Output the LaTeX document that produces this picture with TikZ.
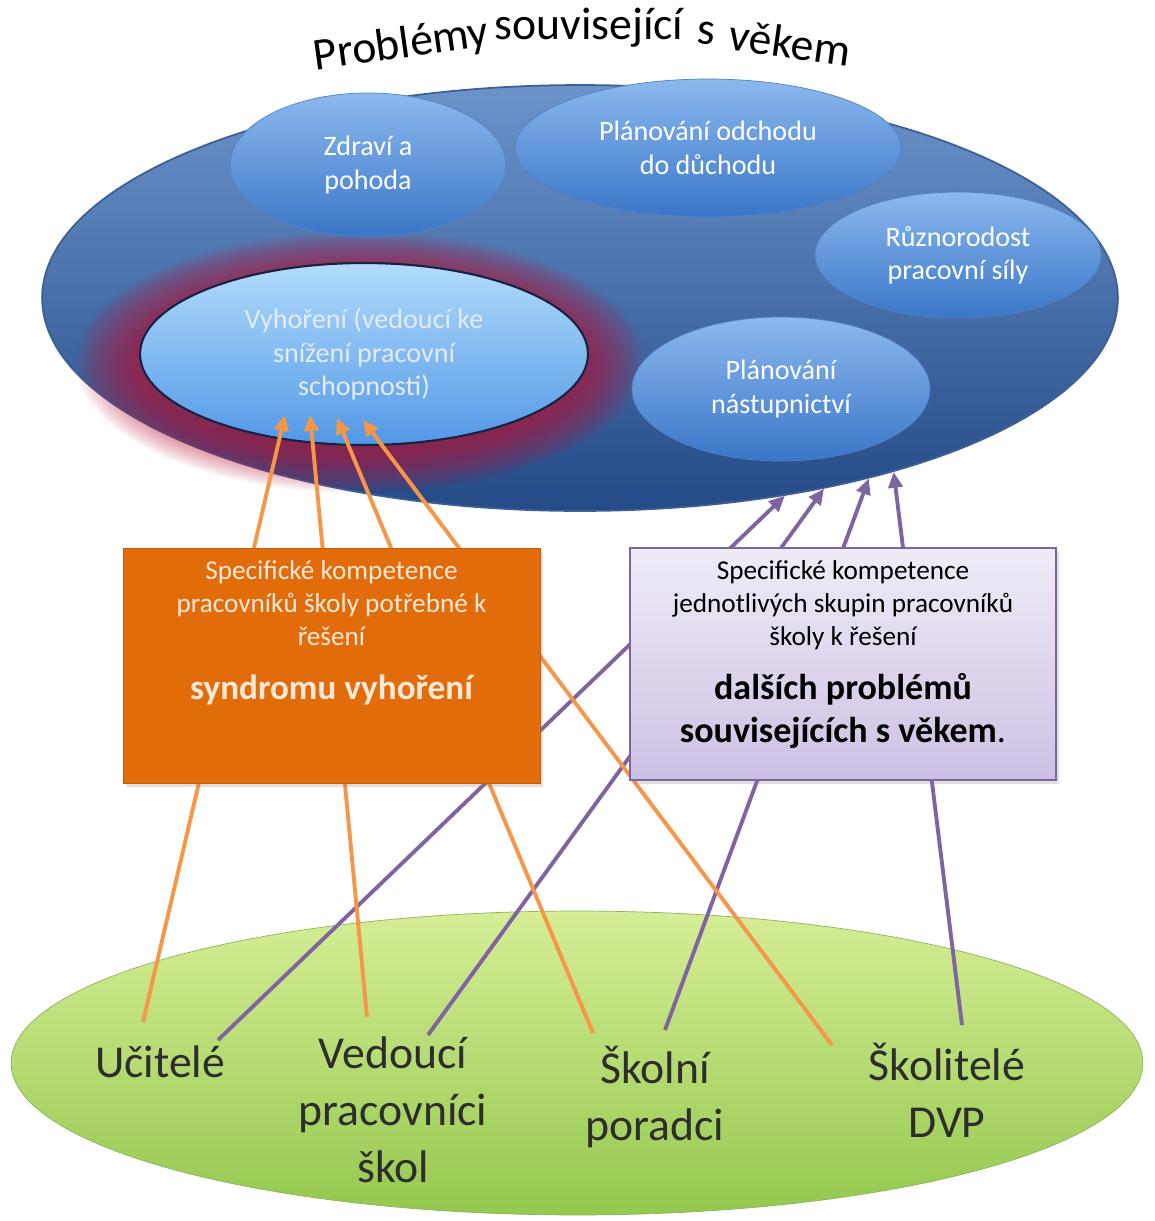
\documentclass[tikz,border=0pt]{standalone}
\usepackage{fontspec}
\setmainfont{Carlito}
\usetikzlibrary{shapes.geometric,arrows.meta,calc,shadows}

\definecolor{outertop}{RGB}{108,148,202}
\definecolor{outerbot}{RGB}{36,74,135}
\definecolor{outerline}{RGB}{60,95,150}
\definecolor{bubtop}{RGB}{140,185,238}
\definecolor{bubbot}{RGB}{58,118,200}
\definecolor{bubline}{RGB}{80,130,195}
\definecolor{burntop}{RGB}{178,220,252}
\definecolor{burnbot}{RGB}{82,152,230}
\definecolor{burnline}{RGB}{25,35,65}
\definecolor{burntext}{RGB}{228,236,245}
\definecolor{glowred}{RGB}{195,20,55}
\definecolor{orbox}{RGB}{227,108,10}
\definecolor{ortext}{RGB}{253,233,217}
\definecolor{lavtop}{RGB}{240,236,247}
\definecolor{lavbot}{RGB}{205,192,227}
\definecolor{lavline}{RGB}{128,100,162}
\definecolor{orline}{RGB}{247,150,70}
\definecolor{puline}{RGB}{128,100,162}
\definecolor{greentop}{RGB}{214,238,150}
\definecolor{greenbot}{RGB}{148,200,78}
\definecolor{greenline}{RGB}{140,180,90}
\definecolor{grouptext}{RGB}{45,45,45}

\begin{document}
\begin{tikzpicture}[x=0.02cm,y=-0.02cm,
	bubble/.style={ellipse,draw=bubline,top color=bubtop,bottom color=bubbot,text=white,align=center,inner sep=0pt,font=\fontsize{16}{19}\selectfont},
	group/.style={align=center,inner sep=0pt,text=grouptext,font=\fontsize{26}{32.3}\selectfont},
	titleword/.style={anchor=base,inner sep=0pt,font=\fontsize{26}{30}\selectfont},
	orangearrow/.style={draw=orline,line width=2.2pt,-{Triangle[length=9pt,width=8pt]}},
	purplearrow/.style={draw=puline,line width=2.2pt,-{Triangle[length=9pt,width=8pt]}},
	compbox/.style={rectangle,inner sep=0pt,drop shadow={opacity=0.25,shadow xshift=2pt,shadow yshift=-2pt}},
	comptext/.style={anchor=north,inner sep=0pt,align=center,font=\fontsize{15.5}{18.7}\selectfont},
	compkey/.style={anchor=north,inner sep=0pt,align=center,font=\fontsize{20.5}{24.4}\selectfont\bfseries}]

\fill[white] (0,0) rectangle (1154,1221);
\useasboundingbox (0,0) rectangle (1154,1221);

\node[ellipse,draw=greenline,top color=greentop,bottom color=greenbot,minimum width=22.64cm,minimum height=6.08cm] (staff) at (577,1063) {};
\node[ellipse,draw=outerline,line width=1pt,top color=outertop,bottom color=outerbot,minimum width=21.52cm,minimum height=8.52cm] (age) at (580,298) {};
\foreach \i [evaluate=\i as \rx using 224+2.4*\i, evaluate=\i as \ry using 91+1.6*\i] in {1,...,25}
	\fill[glowred,opacity=0.04] (360,362) ellipse [x radius=\rx,y radius=\ry];

\node[bubble,minimum width=5.52cm,minimum height=2.88cm] (health) at (368,165) {Zdraví a\\pohoda};
\node[bubble,minimum width=7.72cm,minimum height=2.76cm] (retire) at (708,148) {Plánování odchodu\\do důchodu};
\node[bubble,minimum width=5.72cm,minimum height=2.52cm] (diverse) at (958,255) {Různorodost\\pracovní síly};
\node[bubble,minimum width=5.96cm,minimum height=2.88cm] (succession) at (781,389) {Plánování\\nástupnictví};
\node[bubble,draw=burnline,line width=1.2pt,top color=burntop,bottom color=burnbot,text=burntext,minimum width=8.96cm,minimum height=3.64cm] (burn) at (364,354) {Vyhoření (vedoucí ke\\snížení pracovní\\schopnosti)};

\node[group] (teach) at (160,1062) {Učitelé};
\node[group] (lead) at (393,1110) {Vedoucí\\pracovníci\\škol};
\node[group] (couns) at (655,1097) {Školní\\poradci};
\node[group] (train) at (947,1090) {Školitelé\\DVP};

\path	($(teach.center)+(-17,-40)$) coordinate (os1)
		($(lead.center)+(-26,-93)$) coordinate (os2)
		($(couns.center)+(-62,-64)$) coordinate (os3)
		($(train.center)+(-115,-45)$) coordinate (os4)
		($(burn.center)+(-79,61)$) coordinate (ot1)
		($(burn.center)+(-54,61)$) coordinate (ot2)
		($(burn.center)+(-27,64)$) coordinate (ot3)
		($(burn.center)+(-1,66)$) coordinate (ot4)
		($(teach.center)+(58,-22)$) coordinate (ps1)
		($(lead.center)+(35,-75)$) coordinate (ps2)
		($(couns.center)+(10,-67)$) coordinate (ps3)
		($(train.center)+(15,-65)$) coordinate (ps4)
		(age.-44.6) coordinate (pt1)
		(age.-38.4) coordinate (pt2)
		(age.-32.9) coordinate (pt3)
		(age.-29.6) coordinate (pt4);
\foreach \i in {1,...,4} {
	\draw[orangearrow] (os\i) -- (ot\i);
	\draw[purplearrow] (ps\i) -- (pt\i);
}

\node[compbox,fill=orbox,draw=orbox!85!black,minimum width=8.34cm,minimum height=4.7cm] (burnbox) at (331.5,665.5) {};
\node[comptext,text=ortext] (burntxt) at ($(burnbox.north)+(0,13)$) {Specifické kompetence\\pracovníků školy potřebné k\\řešení};
\node[compkey,text=ortext,font=\fontsize{20}{24}\selectfont\bfseries] (burnkey) at ($(burnbox.north)+(0,127)$) {syndromu vyhoření};
\node[compbox,draw=lavline,line width=1pt,top color=lavtop,bottom color=lavbot,minimum width=8.52cm,minimum height=4.64cm] (agebox) at (843,664) {};
\node[comptext,text=black] (agetxt) at ($(agebox.north)+(0,13)$) {Specifické kompetence\\jednotlivých skupin pracovníků\\školy k řešení};
\node[compkey,text=black] (agekey) at ($(agebox.north)+(0,126)$) {dalších problémů\\souvisejících s věkem\mdseries.};

\foreach \w/\x/\y/\a [count=\k] in {Problémy/403/58/8,související/589/39/0,s/705/44/-4.5,věkem/788/58/-8}
	\node[titleword,rotate=\a] (title\k) at (\x,\y) {\w};
\end{tikzpicture}
\end{document}
